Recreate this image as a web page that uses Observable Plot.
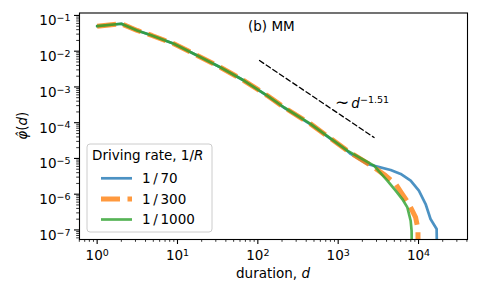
<!DOCTYPE html>
<html><head><meta charset="utf-8">
<script src="https://cdn.jsdelivr.net/npm/d3@7"></script>
<script src="https://cdn.jsdelivr.net/npm/@observablehq/plot@0.6"></script>
<style>
body{margin:0;background:#fff}
svg{font-family:"DejaVu Sans",sans-serif}
</style></head><body><div id="chart"></div>
<script>
// ---- data ----
const seriesLabels = ["1\u2009/\u200970", "1\u2009/\u2009300", "1\u2009/\u20091000"];
const seriesColors = ["#1f77b4", "#ff7f0e", "#2ca02c"];

const d70 = [1, 2, 3.15, 4.8, 9, 17.6, 34, 67, 131, 211, 453, 1300, 1430, 2300, 3070, 4500, 6000, 7980, 10100, 12250, 14100, 16800, 17100];
const phi70 = [0.050, 0.0586, 0.038, 0.0275, 0.0161, 0.0076, 0.00356, 0.00151, 5.6e-4, 2.65e-4, 9.0e-5, 1.62e-5, 1.34e-5, 7.0e-6, 5.9e-6, 4.76e-6, 3.68e-6, 2.39e-6, 1.25e-6, 5.3e-7, 2.02e-7, 1.06e-7, 1e-8];

const d300 = [1, 2, 3.15, 4.8, 9, 17.6, 34, 67, 131, 211, 453, 1300, 2790, 3890, 5190, 6280, 7590, 9200, 9840, 9900];
const phi300 = [0.050, 0.0586, 0.038, 0.0275, 0.0161, 0.0076, 0.00356, 0.00151, 5.74e-4, 2.70e-4, 9.25e-5, 1.65e-5, 5.64e-6, 3.30e-6, 1.93e-6, 1.01e-6, 5.3e-7, 2.24e-7, 1.06e-7, 1e-8];

const d1000 = [1, 2, 3.15, 4.8, 9, 17.6, 34, 67, 131, 211, 453, 1300, 2790, 4090, 5190, 6280, 7260, 7980, 8200, 8300];
const phi1000 = [0.050, 0.0586, 0.038, 0.0275, 0.0161, 0.0076, 0.00356, 0.00151, 5.74e-4, 2.70e-4, 9.25e-5, 1.65e-5, 6.3e-6, 2.39e-6, 1.25e-6, 7.3e-7, 4.27e-7, 1.81e-7, 9.5e-8, 1e-8];

const guideD = [105, 2800];
const guidePhi = [5.47e-3, 3.85e-5];

const xTicks = [1, 10, 100, 1000, 10000];
const yTicks = [1e-7, 1e-6, 1e-5, 1e-4, 1e-3, 1e-2, 1e-1];
const panelLabel = "(b) MM";
const legendTitle = "Driving rate, 1/";

// ---- build ----
const toRows = (ds, ps) => ds.map((d, i) => ({d, phi: ps[i]}));
const minorOf = (lo, hi) => { const out = []; for (let e = lo; e <= hi; e++) for (let m = 2; m <= 9; m++) out.push(m * Math.pow(10, e)); return out; };
const xMinor = minorOf(-1, 4).filter(v => v >= 0.6 && v <= 41000);
const yMinor = minorOf(-8, -1).filter(v => v >= 5.4e-8 && v <= 0.117);
const expFmt = v => String(Math.round(Math.log10(v)));

const plot = Plot.plot({
  width: 477, height: 294,
  marginLeft: 79, marginRight: 10, marginTop: 12.5, marginBottom: 55,
  style: {fontFamily: "DejaVu Sans", fontSize: "13.5px", background: "white", color: "black", overflow: "visible"},
  x: {type: "log", domain: [0.603, 40700]},
  y: {type: "log", domain: [5.4e-8, 0.117]},
  marks: [
    Plot.line(toRows(d70, phi70), {x: "d", y: "phi", stroke: seriesColors[0], strokeOpacity: 0.8, strokeWidth: 2.7, clip: true}),
    Plot.line(toRows(d300, phi300), {x: "d", y: "phi", stroke: seriesColors[1], strokeOpacity: 0.8, strokeWidth: 5, strokeDasharray: "19,7.5", strokeLinecap: "butt", clip: true}),
    Plot.line(toRows(d1000, phi1000), {x: "d", y: "phi", stroke: seriesColors[2], strokeOpacity: 0.8, strokeWidth: 2.7, clip: true}),
    Plot.line(toRows(guideD, guidePhi), {x: "d", y: "phi", stroke: "black", strokeWidth: 1.3, strokeDasharray: "5,3", clip: true}),
    Plot.frame({stroke: "black", strokeWidth: 1.1}),
    Plot.axisX(xMinor, {tickSize: 2.8, tickFormat: () => "", strokeWidth: 0.8, label: null}),
    Plot.axisX(xTicks, {tickSize: 5, tickPadding: 6, tickFormat: expFmt, strokeWidth: 1.1, label: null}),
    Plot.axisY(yMinor, {tickSize: 2.8, tickFormat: () => "", strokeWidth: 0.8, label: null}),
    Plot.axisY(yTicks, {tickSize: 5, tickPadding: 4, tickFormat: expFmt, strokeWidth: 1.1, label: null})
  ]
});

const svg = d3.select(plot);
// superscript tick labels
svg.selectAll('g[aria-label$="tick label"] text').each(function() {
  const t = this.textContent;
  if (!t) return;
  const s = d3.select(this);
  s.text("10");
  s.append("tspan").attr("dy", "-0.45em").attr("font-size", "9.5px").text(t.replace("-", "\u2212"));
});
svg.selectAll('g[aria-label="y-axis tick label"] text').attr("dy", "0.42em");

const sx = plot.scale("x"), sy = plot.scale("y");
const g = svg.append("g").attr("font-family", "DejaVu Sans").attr("font-size", "13.5px").attr("fill", "black").attr("text-anchor", "start");

// panel label
g.append("text").attr("text-anchor", "start").attr("x", sx.apply(76.6)).attr("y", sy.apply(0.047)).attr("dy", "0.32em").text(panelLabel);

// power-law label
const pl = g.append("text").attr("text-anchor", "start").attr("x", sx.apply(929)).attr("y", sy.apply(3.38e-4)).attr("dy", "0.32em");
pl.append("tspan").attr("font-size", "17px").text("\u223C");
pl.append("tspan").attr("dx", "2").attr("font-style", "italic").text("d");
pl.append("tspan").attr("dy", "-0.45em").attr("font-size", "9.5px").text("\u22121.51");

// axis labels
const xl = g.append("text").attr("x", (79 + 467) / 2).attr("y", 278).attr("text-anchor", "middle");
xl.append("tspan").text("duration, ");
xl.append("tspan").attr("font-style", "italic").text("d");

const yl = g.append("text").attr("transform", `translate(26.5,${(12.5 + 239) / 2}) rotate(-90)`).attr("text-anchor", "middle");
yl.append("tspan").attr("font-style", "italic").text("\u03C6\u0302");
yl.append("tspan").text("(");
yl.append("tspan").attr("font-style", "italic").text("d");
yl.append("tspan").text(")");

// legend
const lg = g.append("g").attr("text-anchor", "start");
lg.append("rect").attr("x", 87).attr("y", 144).attr("width", 125).attr("height", 88).attr("rx", 3)
  .attr("fill", "white").attr("fill-opacity", 0.8).attr("stroke", "#cccccc").attr("stroke-width", 1);
const lt = lg.append("text").attr("x", 92).attr("y", 160);
lt.append("tspan").text(legendTitle);
lt.append("tspan").attr("font-style", "italic").text("R");
const rowsY = [178.3, 199, 219.5];
const styles = [
  {w: 2.7, dash: null},
  {w: 5, dash: "19,7.5"},
  {w: 2.7, dash: null}
];
seriesLabels.forEach((lab, i) => {
  const ln = lg.append("line").attr("x1", 101).attr("x2", 132).attr("y1", rowsY[i]).attr("y2", rowsY[i])
    .attr("stroke", seriesColors[i]).attr("stroke-opacity", 0.8).attr("stroke-width", styles[i].w);
  if (styles[i].dash) ln.attr("stroke-dasharray", styles[i].dash);
  lg.append("text").attr("x", 142).attr("y", rowsY[i]).attr("dy", "0.36em").text(lab);
});

document.getElementById("chart").appendChild(plot);
</script></body></html>
